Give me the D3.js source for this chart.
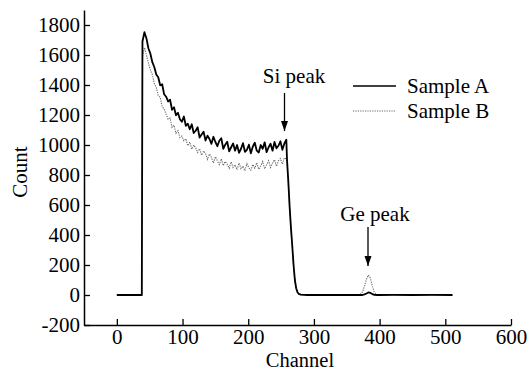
<!DOCTYPE html>
<html>
<head>
<meta charset="utf-8">
<script src="https://cdn.jsdelivr.net/npm/d3@7/dist/d3.min.js"></script>
<style>
  html, body { margin: 0; padding: 0; background: #fff; }
  svg { display: block; }
  text { font-family: "Liberation Serif", "Times New Roman", serif; fill: #000; }
</style>
</head>
<body>
<svg id="chart" width="528" height="371"></svg>
<script>
// ---- data ----
const channels = [0, 20, 38,
  39, 42, 45, 48, 51, 54, 57, 60, 63, 66, 69, 72, 75, 78, 81, 84, 87, 90,
  93, 96, 99, 102, 105, 108, 111, 114, 117, 120, 123, 126, 129, 132, 135, 138,
  141, 144, 147, 150, 153, 156, 159, 162, 165, 168, 171, 174, 177, 180, 183, 186,
  189, 192, 195, 198, 201, 204, 207, 210, 213, 216, 219, 222, 225, 228, 231, 234,
  237, 240, 243, 246, 249, 252, 255, 258,
  259, 261, 263, 265, 267, 269, 271, 273, 275, 277, 280, 290, 300, 320, 340, 360,
  370, 374, 377, 380, 383, 386, 389, 392, 396, 400, 420, 450, 480, 511];

const sampleA = [0, 0, 0,
  1690, 1752, 1712, 1645, 1610, 1552, 1520, 1470, 1452, 1398, 1405, 1338, 1322, 1290, 1302, 1235, 1252, 1198,
  1215, 1172, 1155, 1190, 1128, 1142, 1105, 1138, 1080, 1095, 1118, 1050, 1070, 1088, 1030, 1062,
  1040, 1008, 1055, 1020, 992, 1028, 1045, 975, 1002, 1022, 958, 985, 1010, 962, 1000, 948,
  975, 1012, 955, 968, 1002, 945, 990, 1015, 962, 950, 1000, 975, 1018, 952, 985, 1008,
  962, 1020, 978, 995, 1025, 968, 1010, 1035,
  905, 760, 590, 450, 330, 200, 100, 45, 18, 7, 2, 0, 1, 0, 1, 0,
  0, 0, 4, 10, 17, 14, 6, 1, 0, 0, 1, 0, 1, 0];

const sampleB = [0, 0, 0,
  1590, 1650, 1600, 1548, 1500, 1470, 1410, 1385, 1330, 1318, 1255, 1240, 1205, 1172, 1180, 1118, 1132, 1078,
  1095, 1050, 1060, 1028, 1042, 995, 1020, 972, 1000, 982, 950, 975, 932, 960, 945, 905,
  940, 918, 880, 922, 895, 870, 908, 862, 890, 872, 845, 888, 850, 868, 835, 880,
  842, 860, 828, 875, 848, 832, 870, 845, 882, 838, 860, 890, 842, 868, 895, 850,
  880, 902, 858, 895, 910, 872, 915, 905,
  880, 740, 575, 440, 320, 195, 96, 42, 16, 6, 2, 0, 0, 1, 0, 0,
  2, 20, 60, 105, 133, 112, 58, 16, 3, 0, 0, 1, 0, 0];

const xTicks = [0, 100, 200, 300, 400, 500, 600];
const yTicks = [-200, 0, 200, 400, 600, 800, 1000, 1200, 1400, 1600, 1800];
const seriesNames = ["Sample A", "Sample B"];
const annotations = [
  { label: "Si peak", channel: 256, value: 1035 },
  { label: "Ge peak", channel: 383, value: 133 }
];

// ---- layout ----
const svg = d3.select("#chart");
const x = d3.scaleLinear().domain([-50, 600]).range([84, 511]);
const y = d3.scaleLinear().domain([-200, 1900]).range([325, 10]);

const fontSize = 21;
const fmt = d => String(d);

// axes
const xAxis = d3.axisBottom(x).tickValues(xTicks).tickFormat(fmt)
  .tickSizeInner(-6).tickSizeOuter(0).tickPadding(4);
const yAxis = d3.axisLeft(y).tickValues(yTicks).tickFormat(fmt)
  .tickSizeInner(-6).tickSizeOuter(0).tickPadding(4);

const gx = svg.append("g").attr("transform", `translate(0,${y(-200)})`).call(xAxis);
const gy = svg.append("g").attr("transform", `translate(${x(-50)},0)`).call(yAxis);
[gx, gy].forEach(g => {
  g.select(".domain").attr("stroke", "#000").attr("stroke-width", 1.5);
  g.selectAll(".tick line").attr("stroke", "#000").attr("stroke-width", 1.3);
  g.selectAll(".tick text").attr("font-size", fontSize)
    .attr("font-family", "'Liberation Serif', 'Times New Roman', serif").attr("fill", "#000");
});
gx.selectAll(".tick text").attr("dy", "0.7em");

// axis titles
svg.append("text").attr("x", 300).attr("y", 367).attr("text-anchor", "middle")
  .attr("font-size", 20.5).text("Channel");
svg.append("text").attr("transform", `translate(27,172) rotate(-90)`)
  .attr("text-anchor", "middle").attr("font-size", fontSize).text("Count");

// lines
const line = d3.line().x((d, i) => x(channels[i])).y(d => y(d));
svg.append("path").datum(sampleB).attr("d", line)
  .attr("fill", "none").attr("stroke", "#666").attr("stroke-width", 1.1)
  .attr("stroke-dasharray", "1.2,1.2");
svg.append("path").datum(sampleA).attr("d", line)
  .attr("fill", "none").attr("stroke", "#000").attr("stroke-width", 1.8)
  .attr("stroke-linejoin", "round");

// legend
const legend = svg.append("g");
legend.append("line").attr("x1", 353).attr("x2", 396).attr("y1", 86).attr("y2", 86)
  .attr("stroke", "#000").attr("stroke-width", 1.5);
legend.append("line").attr("x1", 353).attr("x2", 396).attr("y1", 111).attr("y2", 111)
  .attr("stroke", "#666").attr("stroke-width", 1.1).attr("stroke-dasharray", "1.2,1.2");
legend.append("text").attr("x", 407).attr("y", 93).attr("font-size", fontSize).text(seriesNames[0]);
legend.append("text").attr("x", 407).attr("y", 118).attr("font-size", fontSize).text(seriesNames[1]);

// annotations with arrows
svg.append("defs").append("marker").attr("id", "arrow")
  .attr("viewBox", "0 0 10 10").attr("refX", 10).attr("refY", 5)
  .attr("markerWidth", 10).attr("markerHeight", 10).attr("markerUnits", "userSpaceOnUse")
  .attr("orient", "auto")
  .append("path").attr("d", "M0,1.5 L10,5 L0,8.5 Z").attr("fill", "#000");

const annLayout = [
  { ax: 284.5, tx: 294, ty: 83, y1: 93, y2: 131 },
  { ax: 368, tx: 375, ty: 221, y1: 227, y2: 266 }
];
annotations.forEach((a, i) => {
  const L = annLayout[i];
  svg.append("text").attr("x", L.tx).attr("y", L.ty).attr("text-anchor", "middle")
    .attr("font-size", fontSize).text(a.label);
  svg.append("line").attr("x1", L.ax).attr("x2", L.ax).attr("y1", L.y1).attr("y2", L.y2)
    .attr("stroke", "#000").attr("stroke-width", 1.3).attr("marker-end", "url(#arrow)");
});
</script>
</body>
</html>
